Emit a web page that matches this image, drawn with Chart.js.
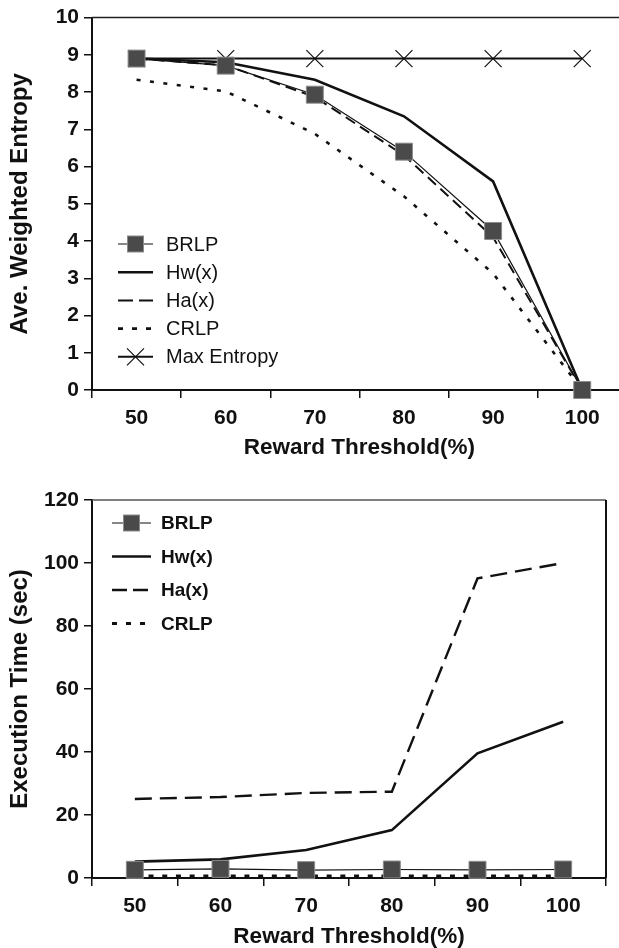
<!DOCTYPE html>
<html>
<head>
<meta charset="utf-8">
<script src="https://cdn.jsdelivr.net/npm/chart.js@4.4.1/dist/chart.umd.min.js"></script>
<style>
  html, body { margin: 0; padding: 0; background: #fff; overflow: hidden; width: 619px; height: 948px; }
  #wrap-top { position: absolute; left: 0; top: 0; width: 640px; height: 470px; }
  #wrap-bottom { position: absolute; left: 0; top: 470px; width: 619px; height: 480px; }
</style>
</head>
<body>
<div id="wrap-top"><canvas id="chart-entropy" width="640" height="470"></canvas></div>
<div id="wrap-bottom"><canvas id="chart-time" width="619" height="480"></canvas></div>
<script>
// data
const thresholds = ['50', '60', '70', '80', '90', '100'];

const entropyBRLP = [8.9, 8.71, 7.93, 6.4, 4.27, 0];
const entropyHw = [8.9, 8.8, 8.33, 7.35, 5.6, 0];
const entropyHa = [8.9, 8.72, 7.87, 6.3, 4.1, 0];
const entropyCRLP = [8.33, 8.02, 6.88, 5.2, 3.13, 0];
const entropyMax = [8.9, 8.9, 8.9, 8.9, 8.9, 8.9];

const timeBRLP = [2.6, 2.9, 2.5, 2.7, 2.6, 2.7];
const timeHw = [5.2, 5.9, 8.9, 15.2, 39.6, 49.6];
const timeHa = [25.1, 25.7, 27.0, 27.4, 95.1, 100];
const timeCRLP = [0.6, 0.6, 0.6, 0.6, 0.6, 0.6];

const FAMILY = "'Liberation Sans', Arial, Helvetica, sans-serif";
const INK = '#111';

// legend drawn inside the plot, under the axis box
const insetLegend = {
    id: 'insetLegend',
    afterDatasetsDraw(chart, args, opts) {
        const ctx = chart.ctx;
        const sets = chart.data.datasets;
        ctx.save();
        ctx.font = opts.font;
        ctx.textBaseline = 'middle';
        ctx.textAlign = 'left';
        sets.forEach(function(ds, i) {
            const y = opts.y + i * opts.gap;
            const x0 = opts.x, x1 = opts.x + opts.sample;
            ctx.strokeStyle = ds.borderColor;
            ctx.lineWidth = ds.borderWidth;
            ctx.setLineDash(ds.legendDash || ds.borderDash || []);
            ctx.beginPath();
            ctx.moveTo(x0, y);
            ctx.lineTo(x1, y);
            ctx.stroke();
            ctx.setLineDash([]);
            const cx = (x0 + x1) / 2;
            if (ds.pointStyle === 'rect' && ds.pointRadius > 0) {
                const s = 8;
                ctx.fillStyle = ds.pointBackgroundColor;
                ctx.fillRect(cx - s, y - s, 2 * s, 2 * s);
                ctx.strokeStyle = ds.pointBorderColor;
                ctx.lineWidth = 1;
                ctx.strokeRect(cx - s, y - s, 2 * s, 2 * s);
            } else if (ds.pointStyle === 'crossRot' && ds.pointRadius > 0) {
                const s = 8.5;
                ctx.strokeStyle = ds.pointBorderColor;
                ctx.lineWidth = ds.pointBorderWidth;
                ctx.beginPath();
                ctx.moveTo(cx - s, y - s); ctx.lineTo(cx + s, y + s);
                ctx.moveTo(cx - s, y + s); ctx.lineTo(cx + s, y - s);
                ctx.stroke();
            }
            ctx.fillStyle = INK;
            ctx.fillText(ds.label, opts.textX, y + 1);
        });
        ctx.restore();
    }
};

// top and right edges of the plot box
const frame = {
    id: 'frame',
    beforeDatasetsDraw(chart, args, opts) {
        const a = chart.chartArea;
        const ctx = chart.ctx;
        ctx.save();
        ctx.strokeStyle = opts.topColor;
        ctx.lineWidth = 1.5;
        ctx.beginPath();
        ctx.moveTo(a.left, a.top);
        ctx.lineTo(a.right, a.top);
        ctx.stroke();
        ctx.strokeStyle = opts.rightColor;
        ctx.lineWidth = 2;
        ctx.beginPath();
        ctx.moveTo(a.right, a.top);
        ctx.lineTo(a.right, a.bottom);
        ctx.stroke();
        ctx.restore();
    }
};

function axes(yMax, yStep, yTitle, xHeight, xTitlePad) {
    const tickFont = { family: FAMILY, size: 21, weight: 'bold' };
    return {
        x: {
            offset: true,
            ticks: { color: INK, font: tickFont, padding: 8 },
            grid: { drawOnChartArea: false, tickLength: 8, color: INK, lineWidth: 1.5, offset: true },
            border: { color: INK, width: 2 },
            title: { display: true, text: 'Reward Threshold(%)', color: INK,
                     font: { family: FAMILY, size: 22.5, weight: 'bold' },
                     padding: { top: 0, bottom: xTitlePad } },
            afterFit: function(s) { s.height = xHeight; }
        },
        y: {
            min: 0,
            max: yMax,
            ticks: { stepSize: yStep, color: INK, font: tickFont, padding: 5 },
            grid: { drawOnChartArea: false, tickLength: 8, color: INK, lineWidth: 1.5 },
            border: { color: INK, width: 2 },
            title: { display: true, text: yTitle, color: INK,
                     font: { family: FAMILY, size: 24, weight: 'bold' },
                     padding: { top: 6, bottom: 0 } },
            afterFit: function(s) { s.width = 92; }
        }
    };
}

function squareSet(label, data) {
    return {
        label: label, data: data,
        borderColor: INK, borderWidth: 1.2,
        pointStyle: 'rect', pointRadius: 12, pointHoverRadius: 12,
        pointBackgroundColor: '#4a4a4a', pointBorderColor: '#8c8c8c', pointBorderWidth: 1
    };
}
function plainSet(label, data, width, dash, legendDash) {
    return {
        label: label, data: data,
        borderColor: INK, borderWidth: width, borderDash: dash, legendDash: legendDash,
        pointRadius: 0
    };
}

/* Ave. weighted entropy */
const ctxEnt = document.querySelector('#chart-entropy').getContext('2d');
const chartEnt = new Chart(ctxEnt, {
    type: 'line',
    data: {
        labels: thresholds,
        datasets: [
            squareSet('BRLP', entropyBRLP),
            plainSet('Hw(x)', entropyHw, 2.6, [], []),
            plainSet('Ha(x)', entropyHa, 2, [11, 6], [15, 6]),
            plainSet('CRLP', entropyCRLP, 2.6, [4, 9.5], [5, 9]),
            {
                label: 'Max Entropy', data: entropyMax,
                borderColor: INK, borderWidth: 2,
                pointStyle: 'crossRot', pointRadius: 12, pointHoverRadius: 12,
                pointBorderColor: INK, pointBackgroundColor: INK, pointBorderWidth: 1.2
            }
        ]
    },
    options: {
        responsive: false,
        animation: false,
        devicePixelRatio: 1,
        clip: false,
        elements: { line: { tension: 0 } },
        layout: { padding: { top: 17, right: 11.5, left: 0, bottom: 0 } },
        plugins: {
            legend: { display: false },
            tooltip: { enabled: false },
            frame: { topColor: '#222', rightColor: INK },
            insetLegend: { x: 118, sample: 35, textX: 166, y: 244, gap: 28.2,
                           font: '20px ' + FAMILY }
        },
        scales: axes(10, 1, 'Ave. Weighted Entropy', 80, 8.5)
    },
    plugins: [frame, insetLegend]
});

/* Execution time */
const ctxTime = document.querySelector('#chart-time').getContext('2d');
const chartTime = new Chart(ctxTime, {
    type: 'line',
    data: {
        labels: thresholds,
        datasets: [
            squareSet('BRLP', timeBRLP),
            plainSet('Hw(x)', timeHw, 2.6, [], []),
            plainSet('Ha(x)', timeHa, 2.4, [17, 8], [15, 6]),
            plainSet('CRLP', timeCRLP, 3, [5, 8.7], [5, 9])
        ]
    },
    options: {
        responsive: false,
        animation: false,
        devicePixelRatio: 1,
        clip: false,
        elements: { line: { tension: 0 } },
        layout: { padding: { top: 30, right: 12, left: 0, bottom: 0 } },
        plugins: {
            legend: { display: false },
            tooltip: { enabled: false },
            frame: { topColor: '#555', rightColor: INK },
            insetLegend: { x: 112, sample: 39, textX: 161, y: 53, gap: 33.5,
                           font: 'bold 19px ' + FAMILY }
        },
        scales: axes(120, 20, 'Execution Time (sec)', 72, 0)
    },
    plugins: [frame, insetLegend]
});
</script>
</body>
</html>
